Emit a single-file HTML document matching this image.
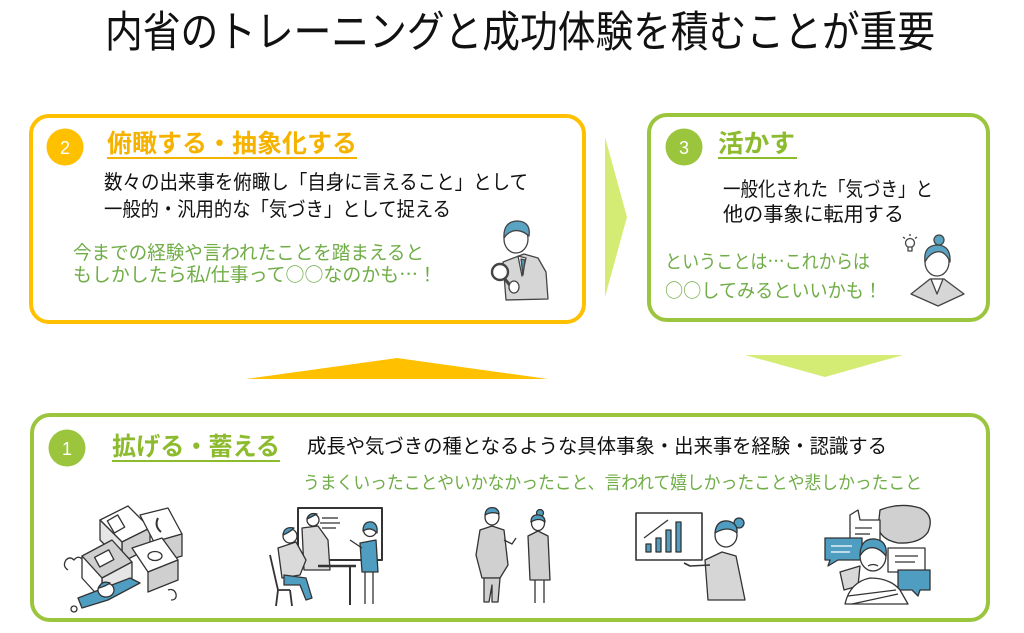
<!DOCTYPE html>
<html><head><meta charset="utf-8">
<style>
html,body{margin:0;padding:0;background:#fff;}
svg{display:block;}
text{font-family:"Liberation Sans","Noto Sans CJK JP",sans-serif;}
.cj{font-family:"Noto Sans CJK JP",sans-serif;}
</style></head>
<body>
<svg width="1024" height="633" viewBox="0 0 1024 633" xmlns="http://www.w3.org/2000/svg">
<rect width="1024" height="633" fill="#fff"/>

<!-- Title -->
<text x="105" y="47" font-size="43" fill="#111" textLength="830" lengthAdjust="spacingAndGlyphs">内省のトレーニングと成功体験を積むことが重要</text>

<!-- Arrows -->
<polygon points="605,137 627,217 605,297" fill="#D4EC74"/>
<polygon points="745,355 903,355 825,377" fill="#D4EC74"/>
<polygon points="246,379 548,379 397,358" fill="#FFC000"/>

<!-- Box 2 -->
<rect x="31" y="116" width="553" height="206" rx="18" fill="#fff" stroke="#FFC000" stroke-width="4"/>
<circle cx="65" cy="147" r="18.5" fill="#FFC000"/>
<text x="65" y="154" font-size="18" fill="#fff" text-anchor="middle">2</text>
<text x="107" y="152" font-size="25" font-weight="bold" fill="#F5B300" textLength="250" lengthAdjust="spacingAndGlyphs">俯瞰する・抽象化する</text>
<rect x="107" y="157" width="250" height="2" fill="#F5B300"/>
<text x="104" y="189" font-size="20" fill="#111" textLength="424" lengthAdjust="spacingAndGlyphs">数々の出来事を俯瞰し「自身に言えること」として</text>
<text x="104" y="216" font-size="20" fill="#111" textLength="347" lengthAdjust="spacingAndGlyphs">一般的・汎用的な「気づき」として捉える</text>
<text x="73" y="259" font-size="19" fill="#70AD47" textLength="351" lengthAdjust="spacingAndGlyphs">今までの経験や言われたことを踏まえると</text>
<text x="73" y="281" font-size="19" fill="#70AD47" textLength="364" lengthAdjust="spacingAndGlyphs">もしかしたら私/仕事って<tspan class="cj">○○</tspan>なのかも<tspan class="cj">…</tspan>！</text>

<!-- magnifier man -->
<g stroke="#444" stroke-width="1.3" stroke-linejoin="round">
  <path d="M503,262 L524,254 L538,258 L546,272 L548,299 L506,300 Z" fill="#D6D6D6"/>
  <path d="M518,256 L522,276 L526,258 Z" fill="#fff"/>
  <path d="M521,259 L523,275 L525,260 Z" fill="#4F9DC0"/>
  <ellipse cx="516" cy="239" rx="12" ry="14" fill="#fff"/>
  <path d="M504,238 Q503,221 518,221 Q531,222 529,236 Q521,229 513,231 Q507,233 504,238 Z" fill="#5AA3C3"/>
  <circle cx="500" cy="272" r="8" fill="#fff" stroke-width="2.4"/>
  <line x1="505" y1="279" x2="512" y2="288" stroke-width="3"/>
  <ellipse cx="514" cy="287" rx="5" ry="6" fill="#fff"/>
</g>

<!-- Box 3 -->
<rect x="649" y="115" width="339" height="205" rx="18" fill="#fff" stroke="#9BC53D" stroke-width="4"/>
<circle cx="684" cy="147" r="18.5" fill="#9BC53D"/>
<text x="684" y="154" font-size="18" fill="#fff" text-anchor="middle">3</text>
<text x="718" y="152" font-size="25" font-weight="bold" fill="#8DBB2E" textLength="77" lengthAdjust="spacingAndGlyphs">活かす</text>
<rect x="718" y="157" width="79" height="2" fill="#8DBB2E"/>
<text x="723" y="196" font-size="20" fill="#111" textLength="210" lengthAdjust="spacingAndGlyphs">一般化された「気づき」と</text>
<text x="723" y="221" font-size="20" fill="#111" textLength="181" lengthAdjust="spacingAndGlyphs">他の事象に転用する</text>
<text x="665" y="268" font-size="19" fill="#70AD47" textLength="205" lengthAdjust="spacingAndGlyphs">ということは<tspan class="cj">…</tspan>これからは</text>
<text x="665" y="297" font-size="19" fill="#70AD47" textLength="217" lengthAdjust="spacingAndGlyphs"><tspan class="cj">○○</tspan>してみるといいかも！</text>

<!-- woman with bulb -->
<g stroke="#444" stroke-width="1.3" stroke-linejoin="round">
  <circle cx="910" cy="243" r="4.5" fill="#fff"/>
  <rect x="908" y="247" width="4" height="4" fill="#fff"/>
  <line x1="910" y1="234" x2="910" y2="236"/><line x1="903" y1="237" x2="905" y2="238.5"/><line x1="917" y1="237" x2="915" y2="238.5"/>
  <path d="M911,294 L930,279 L944,279 L964,294 L938,306 Z" fill="#D6D6D6"/>
  <path d="M931,279 L937,294 L943,279 Z" fill="#fff"/>
  <ellipse cx="937" cy="262" rx="12" ry="14" fill="#fff"/>
  <circle cx="939" cy="240" r="5" fill="#5AA3C3"/>
  <path d="M925,262 Q923,245 938,245 Q951,246 950,262 Q945,250 936,252 Q929,254 925,262 Z" fill="#5AA3C3"/>
</g>

<!-- Box 1 -->
<rect x="32" y="415" width="956" height="205" rx="18" fill="#fff" stroke="#9BC53D" stroke-width="4"/>
<circle cx="67" cy="448" r="18.5" fill="#9BC53D"/>
<text x="67" y="455" font-size="18" fill="#fff" text-anchor="middle">1</text>
<text x="112" y="455" font-size="25" font-weight="bold" fill="#8DBB2E" textLength="168" lengthAdjust="spacingAndGlyphs">拡げる・蓄える</text>
<rect x="112" y="460" width="168" height="2" fill="#8DBB2E"/>
<text x="307" y="453" font-size="20" fill="#111" textLength="580" lengthAdjust="spacingAndGlyphs">成長や気づきの種となるような具体事象・出来事を経験・認識する</text>
<text x="303" y="489" font-size="18" fill="#70AD47" textLength="619" lengthAdjust="spacingAndGlyphs">うまくいったことやいかなかったこと、言われて嬉しかったことや悲しかったこと</text>

<!-- Illustration 1: crushed under boxes -->
<g stroke="#333" stroke-width="1.3" stroke-linejoin="round">
  <polygon points="100,520 128,506 150,528 122,542" fill="#fff"/>
  <polygon points="122,542 150,528 150,548 122,562" fill="#CFCFCF"/>
  <polygon points="100,520 122,542 122,562 100,540" fill="#E6E6E6"/>
  <rect x="110" y="517" width="12" height="14" transform="rotate(-30 116 524)" fill="#fff"/>
  <polygon points="140,515 168,508 182,534 154,542" fill="#fff"/>
  <polygon points="154,542 182,534 182,556 154,564" fill="#CFCFCF"/>
  <path d="M158,518 q-4,8 3,14" fill="none" stroke-width="2"/>
  <polygon points="82,556 112,540 132,562 102,578" fill="#CFCFCF"/>
  <polygon points="102,578 132,562 132,585 102,600" fill="#E6E6E6"/>
  <polygon points="82,556 102,578 102,600 82,578" fill="#fff"/>
  <rect x="96" y="553" width="16" height="11" transform="rotate(-28 104 558)" fill="#fff"/>
  <polygon points="132,548 162,538 178,560 148,572" fill="#fff"/>
  <polygon points="148,572 178,560 178,580 148,592" fill="#CFCFCF"/>
  <ellipse cx="155" cy="556" rx="7" ry="4.5" fill="#fff"/>
  <path d="M78,598 L104,588 L130,578 L140,583 L108,600 L82,608 Z" fill="#4F9DC0"/>
  <ellipse cx="106" cy="590" rx="8" ry="7" fill="#fff"/>
  <path d="M99,588 Q101,580 110,583 Q106,586 99,588 Z" fill="#4F9DC0"/>
  <path d="M68,570 q-6,-4 -2,-10 q4,-4 8,0 q4,-5 8,-1" fill="none"/>
  <path d="M168,590 q6,-2 8,4 q1,6 -5,6" fill="none"/>
  <circle cx="74" cy="609" r="3" fill="#fff"/>
</g>

<!-- Illustration 2: whiteboard meeting -->
<g stroke="#333" stroke-width="1.3" stroke-linejoin="round">
  <rect x="298" y="508" width="84" height="52" fill="#fff" stroke-width="2"/>
  <line x1="322" y1="518" x2="338" y2="518"/><line x1="320" y1="523" x2="340" y2="523"/><line x1="322" y1="528" x2="336" y2="528"/>
  <path d="M302,528 L318,526 L328,540 L330,570 L304,570 Z" fill="#DADADA"/>
  <circle cx="313" cy="520" r="6" fill="#fff"/>
  <path d="M307,519 Q309,512 317,514 Q313,516 307,519 Z" fill="#4F9DC0"/>
  <line x1="318" y1="566" x2="356" y2="566" stroke-width="2.5"/>
  <line x1="350" y1="566" x2="350" y2="605" stroke-width="2"/>
  <path d="M278,548 L296,542 L306,560 L300,575 L282,578 Z" fill="#DADADA"/>
  <path d="M284,575 L306,578 L312,598 L306,600 L300,585 L284,585 Z" fill="#4F9DC0"/>
  <circle cx="290" cy="536" r="7" fill="#fff"/>
  <path d="M283,535 Q284,526 294,528 Q290,532 283,535 Z" fill="#4F9DC0"/>
  <path d="M270,555 L278,590 L290,590 M278,590 L276,606 M290,590 L292,606" fill="none" stroke-width="1.8"/>
  <path d="M360,543 L376,540 L378,572 L362,572 Z" fill="#4F9DC0"/>
  <line x1="365" y1="572" x2="365" y2="604"/><line x1="373" y1="572" x2="373" y2="604"/>
  <circle cx="370" cy="530" r="6.5" fill="#fff"/>
  <path d="M363,531 Q363,521 372,522 Q378,524 377,533 Q371,526 363,531 Z" fill="#4F9DC0"/>
  <line x1="362" y1="548" x2="350" y2="540"/>
</g>

<!-- Illustration 3: two people -->
<g stroke="#333" stroke-width="1.3" stroke-linejoin="round">
  <path d="M480,530 L492,526 L504,530 L508,565 L500,578 L482,578 L476,555 Z" fill="#D0D0D0"/>
  <path d="M484,578 L500,578 L498,602 L492,602 L492,585 L489,602 L484,602 Z" fill="#D0D0D0"/>
  <ellipse cx="492" cy="517" rx="7" ry="8" fill="#fff"/>
  <path d="M485,515 Q486,506 495,508 Q499,510 499,514 Q492,511 485,515 Z" fill="#4F9DC0"/>
  <path d="M504,540 L512,544 L516,538" fill="none"/>
  <path d="M528,536 L538,531 L548,536 L550,580 L530,580 Z" fill="#D0D0D0"/>
  <line x1="535" y1="580" x2="535" y2="603"/><line x1="544" y1="580" x2="544" y2="603"/>
  <ellipse cx="538" cy="523" rx="6.5" ry="7.5" fill="#fff"/>
  <circle cx="540" cy="513" r="3.5" fill="#4F9DC0"/>
  <path d="M531,522 Q531,514 539,515 Q545,516 545,522 Q539,517 531,522 Z" fill="#4F9DC0"/>
</g>

<!-- Illustration 4: chart presenter -->
<g stroke="#333" stroke-width="1.3" stroke-linejoin="round">
  <rect x="636" y="513" width="66" height="47" fill="#fff" stroke-width="1.6"/>
  <rect x="646" y="544" width="5" height="8" fill="#4F9DC0"/>
  <rect x="656" y="538" width="5" height="14" fill="#4F9DC0"/>
  <rect x="666" y="530" width="5" height="22" fill="#4F9DC0"/>
  <rect x="676" y="522" width="5" height="30" fill="#4F9DC0"/>
  <line x1="644" y1="538" x2="668" y2="520"/>
  <path d="M705,560 L722,552 L736,556 L745,600 L708,600 Z" fill="#D6D6D6"/>
  <path d="M710,565 L690,566 L684,563" fill="none" stroke-width="1.6"/>
  <ellipse cx="726" cy="535" rx="11" ry="12" fill="#fff"/>
  <circle cx="739" cy="523" r="5" fill="#4F9DC0"/>
  <path d="M715,533 Q716,520 728,521 Q738,523 737,533 Q728,525 715,533 Z" fill="#4F9DC0"/>
</g>

<!-- Illustration 5: speech bubbles -->
<g stroke="#333" stroke-width="1.3" stroke-linejoin="round">
  <path d="M880,510 Q900,502 920,508 Q935,515 928,532 Q920,544 898,543 Q882,540 878,528 Z" fill="#D0D0D0"/>
  <path d="M850,515 L858,510 L860,520 L880,520 L880,550 L850,550 Z" fill="#fff"/>
  <line x1="855" y1="528" x2="872" y2="528"/><line x1="855" y1="534" x2="870" y2="534"/>
  <path d="M825,538 L862,538 L862,560 L838,560 L828,566 L830,560 L825,560 Z" fill="#4F9DC0"/>
  <line x1="831" y1="546" x2="852" y2="546" stroke="#fff"/><line x1="831" y1="552" x2="850" y2="552" stroke="#fff"/>
  <path d="M888,548 L925,548 L925,572 L888,572 Z" fill="#fff"/>
  <line x1="895" y1="556" x2="918" y2="556"/><line x1="895" y1="562" x2="915" y2="562"/>
  <path d="M898,570 L930,570 L930,590 L920,590 L918,596 L912,590 L898,590 Z" fill="#4F9DC0"/>
  <path d="M840,572 L860,566 L858,586 L844,590 Z" fill="#D8D8D8"/>
  <path d="M845,604 Q850,582 870,578 Q890,578 900,590 L908,604 Z" fill="#fff"/>
  <path d="M848,596 L896,590 M852,604 L898,594" fill="none"/>
  <ellipse cx="873" cy="556" rx="13" ry="15" fill="#fff"/>
  <path d="M860,556 Q860,538 875,539 Q888,541 886,556 Q878,546 869,548 Q863,550 860,556 Z" fill="#4F9DC0"/>
  <path d="M868,566 q5,-3 10,0" fill="none"/>
</g>

</svg>
</body></html>
